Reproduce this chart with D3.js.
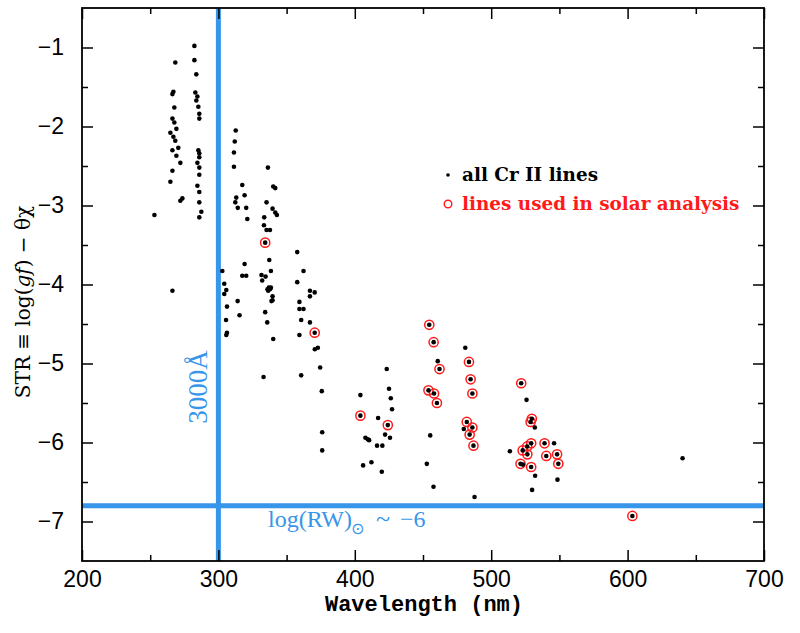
<!DOCTYPE html>
<html><head><meta charset="utf-8">
<script src="https://cdn.jsdelivr.net/npm/d3@7"></script>
<style>body{margin:0;background:#fff}</style>
</head><body><svg id="c" width="800" height="633"></svg>
<script>
// All Cr II lines: wavelength (nm) and STR
const allWavelength = [
  253.1, 268.4, 267.0, 266.3, 267.7, 266.3, 267.7, 269.2, 264.8, 267.0, 268.4, 270.6, 266.3, 269.2, 272.1, 266.3, 264.8, 273.6, 272.1, 266.3,
  282.4, 282.4, 283.8, 283.1, 284.6, 283.8, 285.3, 286.0, 286.0, 285.3, 286.0, 286.0, 284.6, 286.0, 286.0, 284.6, 286.0, 286.0, 287.5, 286.0,
  312.7, 312.0, 311.4, 311.4, 317.5, 319.2, 313.1, 312.4, 314.2, 320.4, 321.2, 319.2, 302.9, 317.5, 320.4, 304.3, 305.8, 304.3, 314.1, 306.3, 315.5, 305.6, 305.8, 306.3,
  336.3, 340.2, 341.7, 335.3, 339.7, 341.7, 342.9, 333.6, 333.4, 335.3, 337.8, 334.3, 337.3, 338.5, 331.6, 334.6, 332.1, 337.0, 336.0, 337.8, 338.5, 336.5, 339.7, 339.7, 338.9, 334.3, 335.8, 340.2, 333.1,
  357.8, 362.4, 357.8, 367.1, 370.6, 367.1, 359.4, 359.4, 362.4, 360.7, 367.1, 370.6, 359.4, 370.7, 372.9, 374.6, 360.7, 375.8, 376.1, 376.1,
  404.1, 404.1, 406.1, 407.8, 409.5, 410.5, 412.2, 417.1, 416.3, 420.2, 419.8, 422.2, 425.8, 424.2, 423.4, 425.1, 426.4, 427.3,
  454.6, 457.8, 460.8, 462.1, 454.0, 458.1, 460.2, 455.3, 452.8, 457.7,
  481.0, 483.7, 484.9, 486.2, 482.1, 486.2, 479.9, 484.2, 487.0, 487.8,
  513.7, 522.0, 525.9, 529.8, 528.9, 532.0, 529.3, 526.4, 523.1, 526.5, 521.5, 523.2, 529.3, 532.2, 530.0, 539.1, 546.1, 540.4, 548.3, 549.2, 548.6,
  603.5, 640.3
];
const allStr = [
  -3.12, -1.19, -1.56, -1.59, -1.76, -1.90, -1.95, -2.03, -2.08, -2.13, -2.18, -2.27, -2.30, -2.37, -2.46, -2.56, -2.70, -2.91, -2.94, -4.08,
  -0.98, -1.16, -1.34, -1.57, -1.62, -1.67, -1.75, -1.84, -1.90, -2.30, -2.34, -2.39, -2.46, -2.52, -2.61, -2.75, -2.83, -2.96, -3.08, -3.15,
  -2.05, -2.19, -2.33, -2.51, -2.74, -2.87, -2.90, -2.96, -3.03, -3.03, -3.17, -3.74, -3.83, -3.89, -3.89, -3.99, -4.07, -4.12, -4.21, -4.28, -4.39, -4.45, -4.64, -4.61,
  -2.52, -2.76, -2.78, -2.96, -3.04, -3.09, -3.12, -3.15, -3.25, -3.31, -3.31, -3.47, -3.69, -3.83, -3.88, -3.90, -3.95, -4.04, -4.06, -4.06, -4.04, -4.08, -4.15, -4.20, -4.21, -4.35, -4.48, -4.69, -5.17,
  -3.59, -3.83, -3.97, -4.08, -4.10, -4.15, -4.22, -4.31, -4.31, -4.45, -4.48, -4.61, -4.64, -4.82, -4.80, -5.05, -5.15, -5.35, -5.87, -6.10,
  -5.40, -5.66, -6.29, -5.94, -5.96, -5.97, -6.25, -5.69, -6.04, -6.04, -6.37, -5.90, -5.94, -5.78, -5.07, -5.32, -5.44, -5.58,
  -4.51, -4.73, -4.97, -5.07, -5.34, -5.38, -5.50, -5.91, -6.27, -6.56,
  -4.80, -4.98, -5.20, -5.38, -5.74, -5.81, -5.83, -5.90, -6.04, -6.69,
  -6.11, -5.25, -5.46, -5.70, -5.74, -5.81, -6.01, -6.05, -6.10, -6.15, -6.27, -6.28, -6.31, -6.42, -6.60, -6.01, -6.01, -6.17, -6.15, -6.27, -6.47,
  -6.93, -6.20
];
// Lines used in the solar analysis
const solarWavelength = [334.3, 370.6, 404.1, 424.2, 454.6, 457.8, 462.1, 454.0, 458.1, 460.2,
  483.7, 484.9, 486.2, 482.1, 486.2, 484.2, 487.0,
  522.0, 529.8, 528.9, 529.3, 526.4, 523.1, 526.5, 521.5, 529.3, 539.1, 540.4, 548.3, 549.2, 603.5];
const solarStr = [-3.47, -4.61, -5.66, -5.78, -4.51, -4.73, -5.07, -5.34, -5.38, -5.50,
  -4.98, -5.20, -5.38, -5.74, -5.81, -5.90, -6.04,
  -5.25, -5.70, -5.74, -6.01, -6.05, -6.10, -6.15, -6.27, -6.31, -6.01, -6.17, -6.15, -6.27, -6.93];

const xMajorTicks = [200, 300, 400, 500, 600, 700];
const xMinorTicks = [250, 350, 450, 550, 650];
const yMajorTicks = [-1, -2, -3, -4, -5, -6, -7];
const yMinorTicks = [-1.5, -2.5, -3.5, -4.5, -5.5, -6.5];
const refWavelength = 300;   // 3000 Å
const refStr = -6.8;         // log(RW) ~ -6 limit
const xLabel = "Wavelength (nm)";
const legendAll = "all Cr II lines";
const legendSolar = "lines used in solar analysis";

const W = 800, H = 633;
const m = {left: 82, right: 36, top: 8, bottom: 72};
const svg = d3.select("#c");
const x = d3.scaleLinear().domain([200, 700]).range([m.left, W - m.right]);
const y = d3.scaleLinear().domain([-7.5, -0.5]).range([H - m.bottom, m.top]);
const blue = "#3795ea", red = "#ff1a1a";

// reference lines
svg.append("line").attr("x1", x(refWavelength)).attr("x2", x(refWavelength))
  .attr("y1", y(-0.5)).attr("y2", y(-7.5)).attr("stroke", blue).attr("stroke-width", 5);
svg.append("line").attr("x1", x(200)).attr("x2", x(700))
  .attr("y1", y(refStr)).attr("y2", y(refStr)).attr("stroke", blue).attr("stroke-width", 5);

// axes with inward ticks
function fmt(d){ return d < 0 ? "\u2212" + Math.abs(d) : String(d); }
const gB = svg.append("g").attr("transform", `translate(0,${y(-7.5)})`)
  .call(d3.axisBottom(x).tickValues(xMajorTicks).tickSize(-11).tickPadding(10).tickFormat(fmt));
svg.append("g").attr("transform", `translate(0,${y(-7.5)})`)
  .call(d3.axisBottom(x).tickValues(xMinorTicks).tickSize(-6).tickFormat(""));
svg.append("g").attr("transform", `translate(0,${y(-0.5)})`)
  .call(d3.axisTop(x).tickValues(xMajorTicks).tickSize(-11).tickFormat(""));
svg.append("g").attr("transform", `translate(0,${y(-0.5)})`)
  .call(d3.axisTop(x).tickValues(xMinorTicks).tickSize(-6).tickFormat(""));
const gL = svg.append("g").attr("transform", `translate(${x(200)},0)`)
  .call(d3.axisLeft(y).tickValues(yMajorTicks).tickSize(-11).tickPadding(18).tickFormat(fmt));
svg.append("g").attr("transform", `translate(${x(200)},0)`)
  .call(d3.axisLeft(y).tickValues(yMinorTicks).tickSize(-6).tickFormat(""));
svg.append("g").attr("transform", `translate(${x(700)},0)`)
  .call(d3.axisRight(y).tickValues(yMajorTicks).tickSize(-11).tickFormat(""));
svg.append("g").attr("transform", `translate(${x(700)},0)`)
  .call(d3.axisRight(y).tickValues(yMinorTicks).tickSize(-6).tickFormat(""));
svg.selectAll(".domain").remove();
svg.selectAll(".tick line").attr("stroke", "#000").attr("stroke-width", 1.5);
svg.selectAll(".tick text").attr("font-family", "Liberation Sans, Arial, sans-serif")
  .attr("font-size", 23).attr("fill", "#000");
gB.selectAll(".tick text").attr("dy", "0.71em");

// frame
svg.append("rect").attr("x", x(200)).attr("y", y(-0.5))
  .attr("width", x(700) - x(200)).attr("height", y(-7.5) - y(-0.5))
  .attr("fill", "none").attr("stroke", "#000").attr("stroke-width", 1.8);

// points
const allData = allWavelength.map((w, i) => ({w, s: allStr[i]}));
const solarData = solarWavelength.map((w, i) => ({w, s: solarStr[i]}));
svg.append("g").selectAll("circle").data(solarData).join("circle")
  .attr("cx", d => x(d.w)).attr("cy", d => y(d.s)).attr("r", 4.6)
  .attr("fill", "none").attr("stroke", red).attr("stroke-width", 1.5);
svg.append("g").selectAll("circle").data(allData).join("circle")
  .attr("cx", d => x(d.w)).attr("cy", d => y(d.s)).attr("r", 2.3)
  .attr("fill", "#000");

// legend
svg.append("circle").attr("cx", 448).attr("cy", 175).attr("r", 1.8).attr("fill", "#000");
svg.append("text").attr("x", 462).attr("y", 181).text(legendAll)
  .attr("font-family", "DejaVu Serif, serif").attr("font-weight", "bold").attr("font-size", 18.4).attr("fill", "#000");
svg.append("circle").attr("cx", 448).attr("cy", 204).attr("r", 3.8).attr("fill", "none").attr("stroke", red).attr("stroke-width", 1.4);
svg.append("text").attr("x", 462).attr("y", 210).text(legendSolar)
  .attr("font-family", "DejaVu Serif, serif").attr("font-weight", "bold").attr("font-size", 18.4).attr("fill", red);

// axis labels
svg.append("text").attr("x", (x(200) + x(700)) / 2 + 1).attr("y", 611).attr("text-anchor", "middle")
  .attr("font-family", "Liberation Mono, monospace").attr("font-weight", "bold").attr("font-size", 22)
  .text(xLabel);
const yl = svg.append("text").attr("transform", "translate(30,302) rotate(-90)").attr("text-anchor", "middle")
  .attr("font-family", "DejaVu Serif, serif").attr("font-size", 20);
yl.append("tspan").text("STR \u2261 log(");
yl.append("tspan").attr("font-style", "italic").text("gf");
yl.append("tspan").text(") \u2212 \u03B8\u03C7");

// blue annotations
svg.append("text").attr("transform", "translate(207,387) rotate(-90)").attr("text-anchor", "middle")
  .attr("font-family", "Liberation Serif, serif").attr("font-size", 27).attr("fill", blue).text("3000\u00C5");
svg.append("text").attr("x", 268).attr("y", 527)
  .attr("font-family", "Liberation Serif, serif").attr("font-size", 24).attr("fill", blue).text("log(RW)");
svg.append("text").attr("x", 351).attr("y", 534)
  .attr("font-family", "DejaVu Sans, sans-serif").attr("font-size", 16).attr("fill", blue).text("\u2299");
svg.append("text").attr("x", 376).attr("y", 527)
  .attr("font-family", "Liberation Serif, serif").attr("font-size", 26).attr("fill", blue).text("~");
svg.append("text").attr("x", 400).attr("y", 527)
  .attr("font-family", "Liberation Serif, serif").attr("font-size", 24).attr("fill", blue).text("\u22126");
</script></body></html>
